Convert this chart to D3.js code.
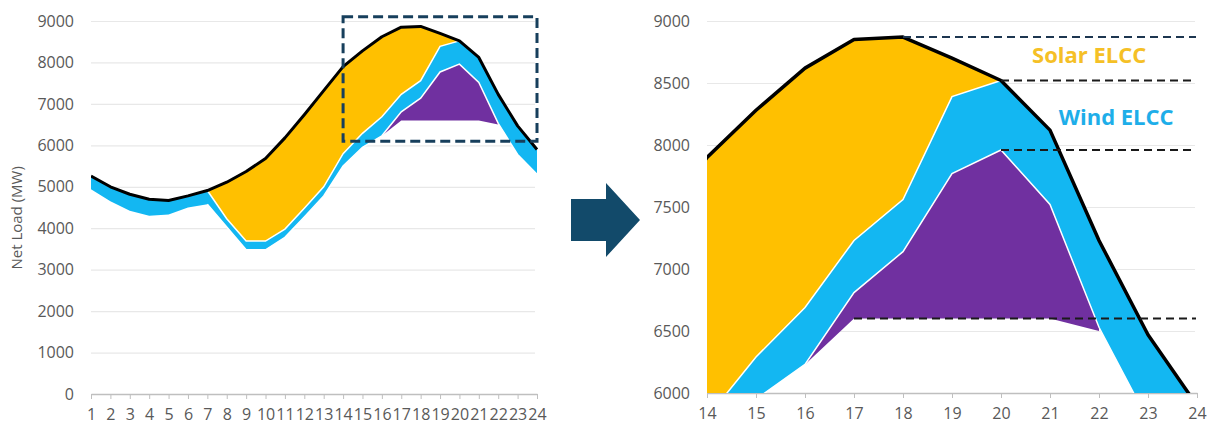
<!DOCTYPE html>
<html>
<head>
<meta charset="utf-8">
<script src="https://cdn.jsdelivr.net/npm/d3@7"></script>
<style>
  body { margin: 0; background: #fff; }
  svg { display: block; font-family: "Open Sans", sans-serif; }
</style>
</head>
<body>
<svg id="chart" width="1209" height="426"></svg>
<script>
// hourly values (MW)
const hours = d3.range(1, 25);
const netLoad       = [5260, 5000, 4820, 4700, 4670, 4780, 4910, 5110, 5370, 5680, 6180, 6740, 7320, 7900, 8280, 8620, 8850, 8870, 8700, 8520, 8120, 7230, 6470, 5900];
const lessSolar     = [5260, 5000, 4820, 4700, 4670, 4780, 4910, 4230, 3690, 3690, 3980, 4480, 5000, 5800, 6290, 6690, 7230, 7560, 8390, 8520, 8120, 7230, 6470, 5900];
const lessSolarWind = [4940, 4650, 4420, 4300, 4330, 4500, 4580, 4030, 3480, 3480, 3780, 4270, 4780, 5500, 5950, 6230, 6810, 7140, 7770, 7960, 7520, 6530, 5780, 5300];

// storage band (purple) sits between lessSolarWind and this floor
const storageHours = [16, 17, 18, 19, 20, 21, 22];
const storageFloor = [6230, 6600, 6600, 6600, 6600, 6600, 6500];

// dashed ELCC levels on the zoomed chart
const refLevels = [8870, 8520, 7960, 6600];
const refStart  = [18, 20, 20, 17];

const leftYTicks  = [0, 1000, 2000, 3000, 4000, 5000, 6000, 7000, 8000, 9000];
const rightYTicks = [6000, 6500, 7000, 7500, 8000, 8500, 9000];
const rightXTicks = d3.range(14, 25);

const colors = {
  solar: "#ffc000",
  wind: "#13b7f2",
  storage: "#7030a0",
  load: "#000",
  grid: "#e8e8e8",
  axis: "#bfbfbf",
  text: "#595959"
};

const svg = d3.select("#chart");

const rows = hours.map((h, i) => ({
  h: h,
  load: netLoad[i],
  solar: lessSolar[i],
  wind: lessSolarWind[i]
}));

const storageRows = storageHours.map((h, i) => ({
  h: h,
  top: lessSolarWind[hours.indexOf(h)],
  floor: storageFloor[i]
}));

//draws one panel: areas, outlines, grid and axes
const drawPanel = (g, x, y, xTicks, yTicks, clipId) => {

  const [x0, x1] = x.range();
  const [yb, yt] = y.range();

  // gridlines + y labels
  g.append("g")
    .attr("transform", `translate(${x0},0)`)
    .call(d3.axisLeft(y).tickValues(yTicks).tickSize(-(x1 - x0 - 2)).tickPadding(17).tickFormat(d3.format("d")))
    .call(a => a.select(".domain").remove())
    .call(a => a.selectAll("line").attr("stroke", colors.grid).attr("stroke-width", 1.2))
    .call(a => a.selectAll("text").attr("fill", colors.text).attr("font-size", 16).attr("font-family", "'Open Sans', sans-serif"));

  // x axis
  g.append("g")
    .attr("transform", `translate(0,${yb})`)
    .call(d3.axisBottom(x).tickValues(xTicks).tickSize(5).tickSizeOuter(0).tickPadding(10).tickFormat(d3.format("d")))
    .call(a => a.select(".domain").attr("stroke", colors.axis).attr("stroke-width", 1.5))
    .call(a => a.selectAll("line").attr("stroke", colors.axis))
    .call(a => a.selectAll("text").attr("fill", colors.text).attr("font-size", 16).attr("font-family", "'Open Sans', sans-serif"));

  g.append("clipPath")
    .attr("id", clipId)
    .append("rect")
    .attr("x", x0)
    .attr("y", 0)
    .attr("width", x1 - x0 + 2)
    .attr("height", yb);

  const plot = g.append("g").attr("clip-path", `url(#${clipId})`);

  plot.append("path")
    .datum(rows)
    .attr("fill", colors.solar)
    .attr("d", d3.area().x(d => x(d.h)).y0(d => y(d.solar)).y1(d => y(d.load)));

  plot.append("path")
    .datum(rows)
    .attr("fill", colors.wind)
    .attr("d", d3.area().x(d => x(d.h)).y0(d => y(d.wind)).y1(d => y(d.solar)));

  plot.append("path")
    .datum(storageRows)
    .attr("fill", colors.storage)
    .attr("d", d3.area().x(d => x(d.h)).y0(d => y(d.floor)).y1(d => y(d.top)));

  // white seams between the stacked bands
  plot.append("path")
    .datum(rows.filter(d => d.h >= 7 && d.h <= 20))
    .attr("fill", "none")
    .attr("stroke", "#fff")
    .attr("stroke-width", 1.5)
    .attr("d", d3.line().x(d => x(d.h)).y(d => y(d.solar)));

  plot.append("path")
    .datum(rows.filter(d => d.h >= 7))
    .attr("fill", "none")
    .attr("stroke", "#fff")
    .attr("stroke-width", 1.5)
    .attr("d", d3.line().x(d => x(d.h)).y(d => y(d.wind)));

  return plot;
}

// left panel: full day
const xL = d3.scaleLinear().domain([1, 24]).range([91, 537]);
const yL = d3.scaleLinear().domain([0, 9000]).range([394, 21]);
const left = svg.append("g");
const leftPlot = drawPanel(left, xL, yL, hours, leftYTicks, "clip-left");

leftPlot.append("path")
  .datum(rows)
  .attr("fill", "none")
  .attr("stroke", colors.load)
  .attr("stroke-width", 3)
  .attr("stroke-linejoin", "round")
  .attr("d", d3.line().x(d => xL(d.h)).y(d => yL(d.load)));

// zoom window drawn on the left panel
left.append("rect")
  .attr("x", xL(14))
  .attr("y", yL(9100))
  .attr("width", xL(24) - xL(14))
  .attr("height", yL(6100) - yL(9100))
  .attr("fill", "none")
  .attr("stroke", "#173f5c")
  .attr("stroke-width", 3)
  .attr("stroke-dasharray", "10,5");

left.append("text")
  .attr("transform", `translate(22,${yL(4250)}) rotate(-90)`)
  .attr("text-anchor", "middle")
  .attr("fill", colors.text)
  .attr("font-size", 15)
  .text("Net Load (MW)");

// right panel: evening peak zoom
const xR = d3.scaleLinear().domain([14, 24]).range([707, 1197]);
const yR = d3.scaleLinear().domain([6000, 9000]).range([393, 21]);
const right = svg.append("g");
const rightPlot = drawPanel(right, xR, yR, rightXTicks, rightYTicks, "clip-right");

right.selectAll("line.ref")
  .data(refLevels)
  .join("line")
  .attr("class", "ref")
  .attr("x1", (d, i) => xR(refStart[i]))
  .attr("x2", 1196)
  .attr("y1", d => yR(d))
  .attr("y2", d => yR(d))
  .attr("stroke", (d, i) => i === 0 ? "#1d3650" : "#1a1a1a")
  .attr("stroke-width", 2)
  .attr("stroke-dasharray", "8,5");

rightPlot.append("path")
  .datum(rows)
  .attr("fill", "none")
  .attr("stroke", colors.load)
  .attr("stroke-width", 3.5)
  .attr("stroke-linejoin", "round")
  .attr("d", d3.line().x(d => xR(d.h)).y(d => yR(d.load)));

right.append("text")
  .attr("x", xR(21.8))
  .attr("y", yR(8720))
  .attr("dy", "0.35em")
  .attr("text-anchor", "middle")
  .attr("font-size", 22)
  .attr("font-weight", "bold")
  .attr("fill", "#f5c026")
  .text("Solar ELCC");

right.append("text")
  .attr("x", xR(22.35))
  .attr("y", yR(8220))
  .attr("dy", "0.35em")
  .attr("text-anchor", "middle")
  .attr("font-size", 22)
  .attr("font-weight", "bold")
  .attr("fill", "#1eaee9")
  .text("Wind ELCC");

// arrow between the panels
const ax = 571, ay = 220;
svg.append("path")
  .attr("fill", "#124a6a")
  .attr("d", `M${ax},${ay - 21} H${ax + 35} V${ay - 37} L${ax + 69},${ay} L${ax + 35},${ay + 37} V${ay + 21} H${ax} Z`);
</script>
</body>
</html>
